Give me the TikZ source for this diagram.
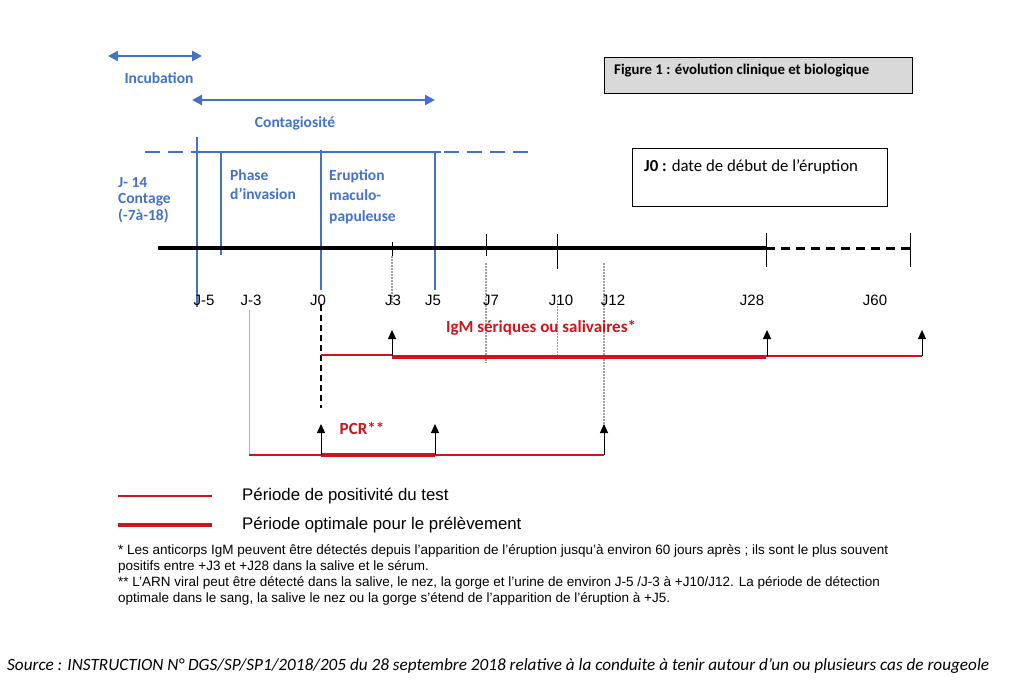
\documentclass[tikz,border=0pt]{standalone}
\usepackage{fontspec}
\setmainfont{Liberation Sans}
\newfontfamily\calibri{Carlito}
\usetikzlibrary{arrows.meta,positioning}
\definecolor{phaseblue}{RGB}{68,114,196}
\definecolor{testred}{RGB}{200,24,30}
\definecolor{boxgray}{RGB}{217,217,217}

\begin{document}
\begin{tikzpicture}[x=1pt, y=-1pt,
    phase/.style={text=phaseblue, font=\calibri\bfseries\fontsize{15.5}{18}\selectfont, align=left, inner sep=0pt},
    span/.style={phaseblue, line width=2.5pt, {Triangle[length=10pt,width=10pt]}-{Triangle[length=10pt,width=10pt]}},
    bound/.style={phaseblue, line width=1.6pt},
    day/.style={font=\fontsize{15}{18}\selectfont, inner sep=0pt},
    daytick/.style={black, line width=0.9pt},
    guide/.style={gray!75, line width=1.8pt, dash pattern=on 1.5pt off 1.5pt},
    positive/.style={testred, line width=1.3pt},
    optimal/.style={testred, line width=3.5pt},
    marker/.style={-{Triangle[length=9pt,width=8pt]}, line width=1pt},
    testlabel/.style={text=testred, font=\calibri\bfseries\fontsize{17}{20}\selectfont, inner sep=0pt},
    legend/.style={font=\fontsize{16.8}{20}\selectfont, anchor=west, inner sep=0pt},
    note/.style={font=\fontsize{13.5}{16}\selectfont, align=left, anchor=north west, inner sep=0pt},
  ]
  \useasboundingbox (0,0) rectangle (1027,685);

  % Day positions on the axis
  \coordinate (jm5) at (197,248);
  \coordinate (jm3) at (249,248);
  \coordinate (j0)  at (321,248);
  \coordinate (j3)  at (392,248);
  \coordinate (j5)  at (435,248);
  \coordinate (j7)  at (486,248);
  \coordinate (j10) at (557,248);
  \coordinate (j12) at (604,248);
  \coordinate (j28) at (766,248);
  \coordinate (j60) at (910,248);
  \coordinate (axisstart) at (158,248);

  % Clinical periods
  \draw[span] (108,56) -- (202,56);
  \node[phase] (incub) at (159,78) {Incubation};
  \draw[span] (192,100) -- (435,100);
  \node[phase] (contag) at (295,123) {Contagiosité};

  \draw[phaseblue, line width=2.5pt, dash pattern=on 15pt off 8pt] (145,152) -- (535,152);
  \draw[phaseblue, line width=2.5pt] (196,152) -- (441,152);
  \draw[bound] (197,137) -- (197,307);
  \draw[bound] (221,152) -- (221,255);
  \draw[bound] (321,150) -- (321,290);
  \draw[bound] (435,152) -- (435,290);

  \node[phase, anchor=north west, font=\calibri\bfseries\fontsize{15.5}{16.5}\selectfont] (contage) at (118,177) {J- 14\\Contage\\(-7à-18)};
  \node[phase, anchor=north west, font=\calibri\bfseries\fontsize{15.5}{19}\selectfont] (invasion) at (230,169) {Phase\\d’invasion};
  \node[phase, anchor=north west, font=\calibri\bfseries\fontsize{15.5}{20.5}\selectfont] (eruption) at (329,169) {Eruption\\maculo-\\papuleuse};

  % Time axis
  \draw[line width=4.5pt] (axisstart) -- (j28);
  \draw[line width=3pt, dash pattern=on 9pt off 6pt] (j28) -- (j60);
  \draw[daytick] (392,242) -- (392,256);
  \draw[daytick] (486,234) -- (486,256);
  \draw[daytick] (557,234) -- (557,269);
  \draw[daytick] (766,233) -- (766,267);
  \draw[daytick] (910,233) -- (910,267);

  \draw[guide] (392,256) -- (392,305);
  \draw[guide] (486,263) -- (486,363);
  \draw[guide, line width=1pt] (557,300) -- (557,360);
  \draw[guide] (604,263) -- (604,430);

  \foreach \d/\lab/\xx in {jm5/J-5/204, jm3/J-3/251, j0/J0/318, j3/J3/393, j5/J5/433,
                           j7/J7/491, j10/J10/561, j12/J12/613, j28/J28/752, j60/J60/875}
    \node[day] (lab-\d) at (\xx,300) {\lab};

  % IgM
  \draw[gray!60, line width=0.8pt] (249,310) -- (249,455);
  \draw[line width=2pt, dash pattern=on 6pt off 4pt] (321,305) -- (321,408);
  \draw[positive] (321,355) -- (392,355);
  \draw[optimal] (392,357) -- (766,357);
  \draw[positive] (766,356) -- (922,356);
  \draw[marker] (392,356) -- (392,330);
  \draw[marker] (767,356) -- (767,330);
  \draw[marker] (922,356) -- (922,330);
  \node[testlabel] (igm) at (541,328) {IgM sériques ou salivaires*};

  % PCR
  \draw[positive] (249,455) -- (604,455);
  \draw[optimal] (321,455) -- (435,455);
  \draw[marker] (321,455) -- (321,424);
  \draw[marker] (435,455) -- (435,424);
  \draw[marker] (604,455) -- (604,424);
  \node[testlabel] (pcr) at (362,428) {PCR**};

  % Boxes
  \node[draw, fill=boxgray, line width=1pt, minimum width=308pt, minimum height=36pt, anchor=north west] (fig) at (604,57) {};
  \node[font=\calibri\bfseries\fontsize{14.8}{17}\selectfont, anchor=west, inner sep=0pt] (figtext) at (614,71) {Figure 1 : évolution clinique et biologique};
  \node[draw, line width=1pt, minimum width=255pt, minimum height=58pt, anchor=north west] (defj0) at (632,148) {};
  \node[font=\calibri\fontsize{16.8}{20}\selectfont, anchor=west, inner sep=0pt] (defj0text) at (644,167) {\textbf{J0 :} date de début de l’éruption};

  % Legend and notes
  \draw[testred, line width=1.8pt] (118,496) -- (212,496);
  \node[legend] (leg1) at (242,496) {Période de positivité du test};
  \draw[testred, line width=3.8pt] (118,525) -- (212,525);
  \node[legend] (leg2) at (242,525) {Période optimale pour le prélèvement};

  \node[note] (notes) at (118,544) {* Les anticorps IgM peuvent être détectés depuis l’apparition de l’éruption jusqu’à environ 60 jours après ; ils sont le plus souvent\\
    positifs entre +J3 et +J28 dans la salive et le sérum.\\
    ** L’ARN viral peut être détecté dans la salive, le nez, la gorge et l’urine de environ J-5 /J-3 à +J10/J12. La période de détection\\
    optimale dans le sang, la salive le nez ou la gorge s’étend de l’apparition de l’éruption à +J5.};

  \node[font=\calibri\itshape\fontsize{17.2}{20}\selectfont, anchor=west, inner sep=0pt] (source) at (7,666)
    {Source : INSTRUCTION N° DGS/SP/SP1/2018/205 du 28 septembre 2018 relative à la conduite à tenir autour d’un ou plusieurs cas de rougeole};
\end{tikzpicture}
\end{document}
